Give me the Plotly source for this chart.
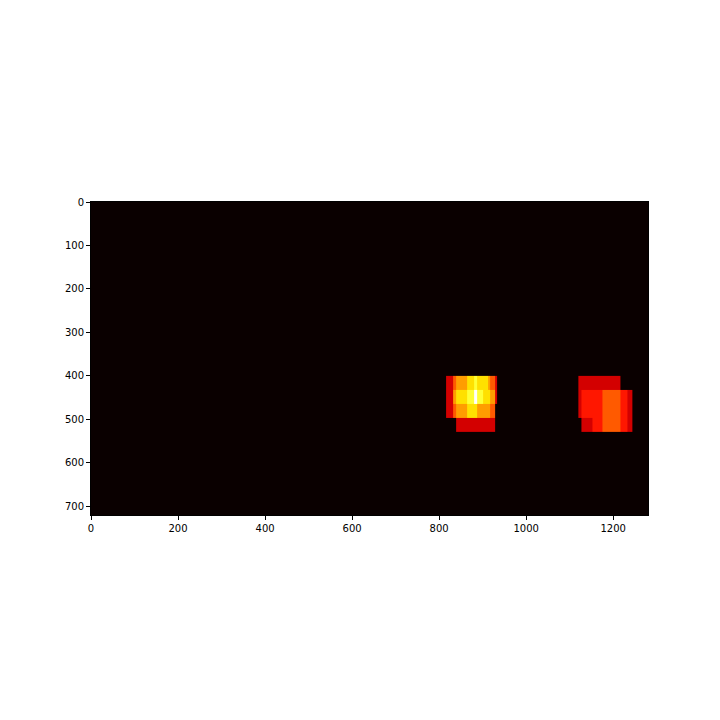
import plotly.graph_objects as go

# heat map of 1280x720 frame, only two hot regions are non-zero
img_w = 1280
img_h = 720

# left blob (cell edges in image pixels, values = heat count)
blob1_x = [816, 832, 840, 864, 880, 888, 900, 912, 918, 928, 934]
blob1_y = [400, 432, 464, 496, 528]
blob1_z = [
    [3, 5, 6, 7, 8, 7, 7, 6, 5, 3],
    [3, 6, 7, 8, 10, 8, 7, 7, 6, 3],
    [3, 5, 6, 7, 7, 6, 6, 6, 5, 0],
    [0, 0, 3, 3, 3, 3, 3, 3, 3, 0],
]

# right blob
blob2_x = [1120, 1128, 1152, 1176, 1216, 1232, 1244]
blob2_y = [400, 432, 496, 528]
blob2_z = [
    [3, 3, 3, 3, 0, 0],
    [3, 4, 4, 5, 4, 3],
    [0, 3, 4, 5, 4, 3],
]

heat_max = 10

# matplotlib "hot"
hot = [
    [0.0, "rgb(10,0,0)"],
    [0.365079, "rgb(255,0,0)"],
    [0.746032, "rgb(255,255,0)"],
    [1.0, "rgb(255,255,255)"],
]

fig = go.Figure()
for xs, ys, zs in [(blob1_x, blob1_y, blob1_z), (blob2_x, blob2_y, blob2_z)]:
    fig.add_trace(
        go.Heatmap(
            x=xs,
            y=ys,
            z=zs,
            zmin=0,
            zmax=heat_max,
            colorscale=hot,
            showscale=False,
            hoverinfo="skip",
        )
    )

fig.update_layout(
    width=720,
    height=720,
    margin=dict(l=83, r=80, t=194, b=213),
    paper_bgcolor="white",
    plot_bgcolor="rgb(10,0,0)",
    font=dict(family="DejaVu Sans", size=10, color="black"),
    showlegend=False,
)
fig.update_xaxes(
    range=[0, img_w],
    tickvals=[0, 200, 400, 600, 800, 1000, 1200],
    ticks="outside",
    ticklen=4,
    tickcolor="black",
    showgrid=False,
    zeroline=False,
    showline=True,
    linecolor="black",
    mirror=True,
)
fig.update_yaxes(
    range=[img_h, 0],
    tickvals=[0, 100, 200, 300, 400, 500, 600, 700],
    ticks="outside",
    ticklen=4,
    tickcolor="black",
    showgrid=False,
    zeroline=False,
    showline=True,
    linecolor="black",
    mirror=True,
)

fig.write_html("out.html")
